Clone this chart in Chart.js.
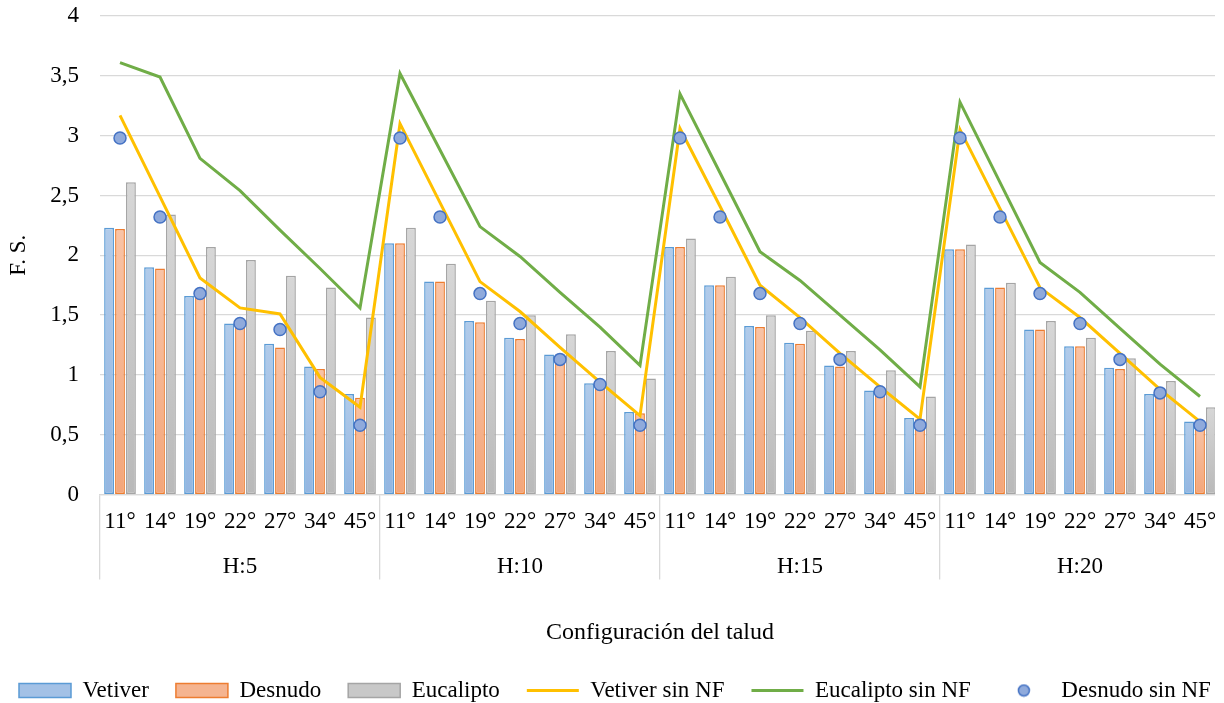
<!DOCTYPE html>
<html>
<head>
<meta charset="utf-8">
<title>F. S. por configuración del talud</title>
<script src="https://cdn.jsdelivr.net/npm/chart.js@4.4.1/dist/chart.umd.min.js"></script>
<style>
    html, body { margin: 0; padding: 0; background: #fff; }
    #wrap { width: 1215px; height: 703px; overflow: hidden; position: relative; }
    #chart { position: absolute; left: -8px; top: 0; }
</style>
</head>
<body>
<div id="wrap"><canvas id="chart" width="1270" height="712"></canvas></div>
<script>
// Categorías: ángulo del talud dentro de cada altura H
const angles = ['11°', '14°', '19°', '22°', '27°', '34°', '45°'];
const heights = ['H:5', 'H:10', 'H:15', 'H:20'];
const labels = heights.flatMap(() => angles);

// F. S. (H:5 | H:10 | H:15 | H:20)
const vetiver      = [2.23, 1.90, 1.66, 1.43, 1.26, 1.07, 0.84,  2.10, 1.78, 1.45, 1.31, 1.17, 0.93, 0.69,  2.07, 1.75, 1.41, 1.27, 1.08, 0.87, 0.64,  2.05, 1.73, 1.38, 1.24, 1.06, 0.84, 0.61];
const desnudo      = [2.22, 1.89, 1.65, 1.41, 1.23, 1.05, 0.81,  2.10, 1.78, 1.44, 1.30, 1.16, 0.91, 0.68,  2.07, 1.75, 1.40, 1.26, 1.07, 0.86, 0.63,  2.05, 1.73, 1.38, 1.24, 1.05, 0.83, 0.58];
const eucalipto    = [2.61, 2.34, 2.07, 1.96, 1.83, 1.73, 1.48,  2.23, 1.93, 1.62, 1.50, 1.34, 1.20, 0.97,  2.14, 1.82, 1.50, 1.37, 1.20, 1.04, 0.82,  2.09, 1.77, 1.45, 1.31, 1.14, 0.95, 0.73];
const vetiverSinNF = [3.17, 2.49, 1.81, 1.56, 1.51, 0.98, 0.73,  3.10, 2.44, 1.78, 1.53, 1.23, 0.94, 0.66,  3.06, 2.41, 1.75, 1.48, 1.18, 0.90, 0.63,  3.05, 2.39, 1.73, 1.48, 1.18, 0.88, 0.61];
const eucalSinNF   = [3.61, 3.49, 2.81, 2.54, 2.21, 1.89, 1.56,  3.52, 2.88, 2.24, 1.99, 1.69, 1.40, 1.08,  3.35, 2.69, 2.03, 1.79, 1.50, 1.21, 0.90,  3.28, 2.61, 1.94, 1.69, 1.39, 1.09, 0.82];
const desnudoSinNF = [2.98, 2.32, 1.68, 1.43, 1.38, 0.86, 0.58,  2.98, 2.32, 1.68, 1.43, 1.13, 0.92, 0.58,  2.98, 2.32, 1.68, 1.43, 1.13, 0.86, 0.58,  2.98, 2.32, 1.68, 1.43, 1.13, 0.85, 0.58];

const FONT = "'Liberation Serif', 'Times New Roman', serif";
Chart.defaults.font.family = FONT;
Chart.defaults.color = '#000';

// Degradado vertical por barra (claro arriba, oscuro abajo)
function barFill(top, bottom) {
    return c => {
        const chart = c.chart;
        if (!chart.chartArea || c.raw == null) return top;
        const y = chart.scales.y;
        const g = chart.ctx.createLinearGradient(0, y.getPixelForValue(c.raw), 0, y.getPixelForValue(0));
        g.addColorStop(0, top);
        g.addColorStop(1, bottom);
        return g;
    };
}

// Punto para la leyenda
const dotImg = document.createElement('canvas');
dotImg.width = 14; dotImg.height = 14;
const dctx = dotImg.getContext('2d');
dctx.beginPath();
dctx.arc(7, 7, 5.5, 0, Math.PI * 2);
dctx.fillStyle = '#8faadc'; dctx.fill();
dctx.lineWidth = 1.5; dctx.strokeStyle = '#4472c4'; dctx.stroke();

const legendStyles = [
    { pointStyle: 'rect', fillStyle: '#a3c1e6', strokeStyle: '#5b9bd5', lineWidth: 1.5 },
    { pointStyle: 'rect', fillStyle: '#f5b490', strokeStyle: '#ed7d31', lineWidth: 1.5 },
    { pointStyle: 'rect', fillStyle: '#c8c8c8', strokeStyle: '#a5a5a5', lineWidth: 1.5 },
    { pointStyle: 'line', fillStyle: '#ffc000', strokeStyle: '#ffc000', lineWidth: 3 },
    { pointStyle: 'line', fillStyle: '#70ad47', strokeStyle: '#70ad47', lineWidth: 3 },
    { pointStyle: dotImg, fillStyle: '#8faadc', strokeStyle: '#4472c4', lineWidth: 0 }
];

const barCommon = {
    type: 'bar',
    xAxisID: 'x',
    borderWidth: 1.5,
    borderSkipped: false,
    categoryPercentage: 0.82,
    barPercentage: 0.9,
    order: 3
};

const ctx = document.getElementById('chart').getContext('2d');
const chart = new Chart(ctx, {
    type: 'bar',
    data: {
        labels: labels,
        datasets: [
            { ...barCommon, label: 'Vetiver', data: vetiver,
              backgroundColor: barFill('#b1cbea', '#93b6e1'), borderColor: '#5b9bd5' },
            { ...barCommon, label: 'Desnudo', data: desnudo,
              backgroundColor: barFill('#f8c3a6', '#f3a67b'), borderColor: '#ed7d31' },
            { ...barCommon, label: 'Eucalipto', data: eucalipto,
              backgroundColor: barFill('#d7d7d7', '#b9b9b9'), borderColor: '#a5a5a5' },
            { type: 'line', xAxisID: 'x', label: 'Vetiver sin NF', data: vetiverSinNF,
              borderColor: '#ffc000', borderWidth: 3, pointRadius: 0, tension: 0, fill: false, order: 2 },
            { type: 'line', xAxisID: 'x', label: 'Eucalipto sin NF', data: eucalSinNF,
              borderColor: '#70ad47', borderWidth: 3, pointRadius: 0, tension: 0, fill: false, order: 1 },
            { type: 'line', xAxisID: 'x', label: 'Desnudo sin NF', data: desnudoSinNF,
              showLine: false, pointStyle: 'circle', pointRadius: 6,
              pointBackgroundColor: '#8faadc', pointBorderColor: '#4472c4', pointBorderWidth: 1.5, order: 0 }
        ]
    },
    options: {
        responsive: false,
        animation: false,
        events: [],
        layout: { padding: { top: 16, left: 0, right: 0, bottom: 0 } },
        scales: {
            y: {
                min: 0,
                max: 4,
                ticks: {
                    stepSize: 0.5,
                    padding: 21,
                    font: { size: 23 },
                    callback: v => String(v).replace('.', ',')
                },
                grid: { color: '#d9d9d9', lineWidth: 1.3, drawTicks: false },
                border: { display: false },
                title: { display: true, text: 'F. S.', font: { size: 23 }, padding: { top: 13, bottom: 0 } },
                afterFit: s => { s.width = 108; s.paddingTop = 0; s.paddingBottom = 0; }
            },
            x: {
                type: 'category',
                offset: true,
                grid: {
                    offset: true,
                    drawOnChartArea: false,
                    drawTicks: true,
                    tickLength: 85,
                    lineWidth: 1.3,
                    color: c => (c.index % angles.length === 0 ? '#d9d9d9' : 'rgba(0,0,0,0)')
                },
                border: { display: true, color: '#d9d9d9', width: 1.3 },
                ticks: { autoSkip: false, maxRotation: 0, minRotation: 0, padding: -71, font: { size: 23 } },
                afterFit: s => { s.height = 42; s.paddingRight = 42; }
            },
            x2: {
                type: 'category',
                labels: heights,
                position: 'bottom',
                weight: 1,
                offset: true,
                grid: { display: false, drawTicks: false },
                border: { display: false },
                ticks: { padding: 17, font: { size: 23 } },
                title: {
                    display: true,
                    text: 'Configuración del talud',
                    font: { size: 24 },
                    padding: { top: 20, bottom: 5 }
                }
            }
        },
        plugins: {
            tooltip: { enabled: false },
            legend: {
                position: 'bottom',
                align: 'start',
                labels: {
                    usePointStyle: true,
                    pointStyleWidth: 52,
                    boxHeight: 14,
                    padding: 27,
                    font: { size: 23 },
                    color: '#000',
                    generateLabels: ch => ch.data.datasets.map((ds, i) => ({
                        text: ds.label,
                        datasetIndex: i,
                        hidden: false,
                        fontColor: '#000',
                        ...legendStyles[i]
                    }))
                }
            }
        }
    }
});
</script>
</body>
</html>
